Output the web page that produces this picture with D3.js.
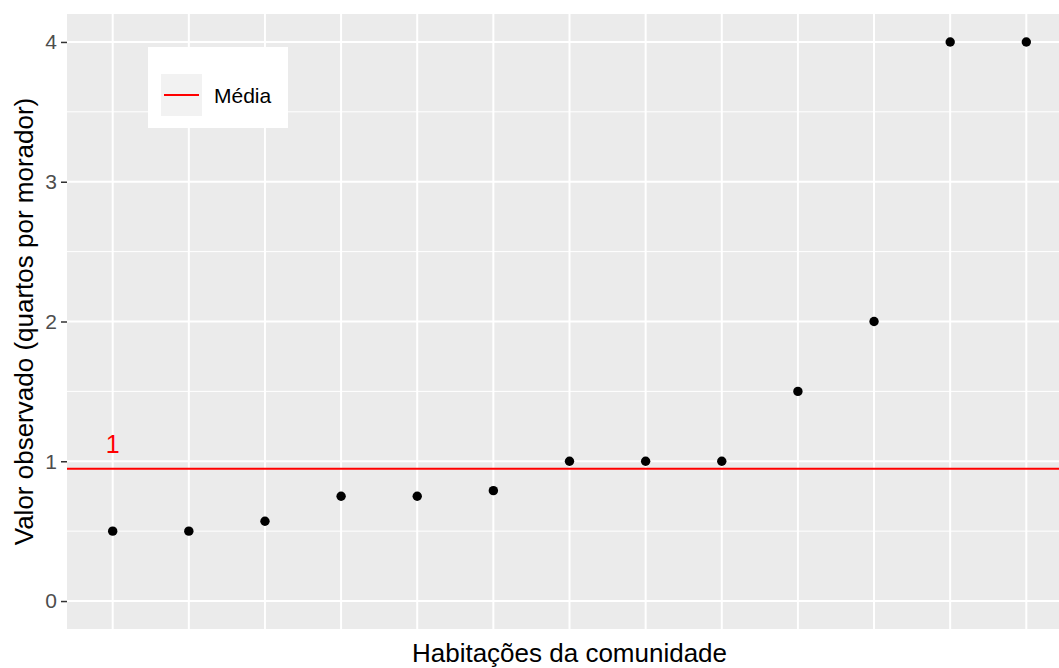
<!DOCTYPE html>
<html>
<head>
<meta charset="utf-8">
<script src="https://cdn.jsdelivr.net/npm/d3@7"></script>
<style>
  body { margin: 0; background: #fff; }
  svg { display: block; font-family: "Liberation Sans", Arial, sans-serif; }
</style>
</head>
<body>
<script>
// houses in the community (x has no tick labels)
var houses = ["h1", "h2", "h3", "h4", "h5", "h6", "h7", "h8", "h9", "h10", "h11", "h12", "h13"];
// rooms per resident
var observed = [0.5, 0.5, 0.571, 0.75, 0.75, 0.79, 1, 1, 1, 1.5, 2, 4, 4];
var yTicks = [0, 1, 2, 3, 4];
var yMinor = [0.5, 1.5, 2.5, 3.5];
var meanValue = 0.946;
var meanLabel = "1";
var legendLabel = "Média";

var width = 1059,
    height = 668,
    panelLeft = 67,
    panelTop = 14,
    panelBottom = 629,
    panelRight = 1072; // panel runs past the picture edge

var x = d3.scalePoint()
    .domain(houses)
    .range([panelLeft, panelRight])
    .padding(0.6);

var y = d3.scaleLinear()
    .domain([-0.2, 4.2])
    .range([panelBottom, panelTop]);

var svg = d3.select("body").append("svg")
    .attr("width", width)
    .attr("height", height);

svg.append("rect")
    .attr("x", panelLeft).attr("y", panelTop)
    .attr("width", panelRight - panelLeft).attr("height", panelBottom - panelTop)
    .attr("fill", "#ebebeb");

// minor grid
svg.selectAll(".minor")
    .data(yMinor)
  .enter().append("line")
    .attr("x1", panelLeft).attr("x2", panelRight)
    .attr("y1", function(d) { return y(d); })
    .attr("y2", function(d) { return y(d); })
    .attr("stroke", "#fff").attr("stroke-width", 1);

// major grid
svg.selectAll(".major")
    .data(yTicks)
  .enter().append("line")
    .attr("x1", panelLeft).attr("x2", panelRight)
    .attr("y1", function(d) { return y(d); })
    .attr("y2", function(d) { return y(d); })
    .attr("stroke", "#fff").attr("stroke-width", 2);

svg.selectAll(".vgrid")
    .data(houses)
  .enter().append("line")
    .attr("x1", function(d) { return x(d); })
    .attr("x2", function(d) { return x(d); })
    .attr("y1", panelTop).attr("y2", panelBottom)
    .attr("stroke", "#fff").attr("stroke-width", 2);

// y axis
var yAxis = d3.axisLeft(y)
    .tickValues(yTicks)
    .tickFormat(d3.format("d"))
    .tickSize(6)
    .tickPadding(4);

var gy = svg.append("g")
    .attr("transform", "translate(" + panelLeft + ",0)")
    .call(yAxis);
gy.select(".domain").remove();
gy.selectAll(".tick line").attr("stroke", "#333").attr("stroke-width", 1.5);
gy.selectAll(".tick text")
    .attr("fill", "#4d4d4d")
    .style("font-size", "21px")
    .style("font-family", "'Liberation Sans', Arial, sans-serif");

// mean line
svg.append("line")
    .attr("x1", panelLeft).attr("x2", panelRight)
    .attr("y1", y(meanValue)).attr("y2", y(meanValue))
    .attr("stroke", "#ff0000").attr("stroke-width", 2);

svg.append("text")
    .attr("x", x(houses[0]))
    .attr("y", y(meanValue) - 16)
    .attr("text-anchor", "middle")
    .attr("fill", "#ff0000")
    .style("font-size", "25px")
    .text(meanLabel);

// points
svg.selectAll(".dot")
    .data(observed)
  .enter().append("circle")
    .attr("cx", function(d, i) { return x(houses[i]); })
    .attr("cy", function(d) { return y(d); })
    .attr("r", 4.7)
    .attr("fill", "#000");

// axis titles
svg.append("text")
    .attr("x", (panelLeft + panelRight) / 2)
    .attr("y", 662)
    .attr("text-anchor", "middle")
    .attr("fill", "#000")
    .style("font-size", "26px")
    .text("Habitações da comunidade");

svg.append("text")
    .attr("transform", "translate(33," + ((panelTop + panelBottom) / 2) + ") rotate(-90)")
    .attr("text-anchor", "middle")
    .attr("fill", "#000")
    .style("font-size", "26px")
    .text("Valor observado (quartos por morador)");

// legend
var lg = svg.append("g").attr("transform", "translate(148,47)");
lg.append("rect")
    .attr("width", 140).attr("height", 81)
    .attr("fill", "#fff");
lg.append("rect")
    .attr("x", 13).attr("y", 27)
    .attr("width", 41).attr("height", 42)
    .attr("fill", "#f2f2f2");
lg.append("line")
    .attr("x1", 16).attr("x2", 51)
    .attr("y1", 48).attr("y2", 48)
    .attr("stroke", "#ff0000").attr("stroke-width", 2);
lg.append("text")
    .attr("x", 66).attr("y", 48)
    .attr("dy", "0.36em")
    .attr("fill", "#000")
    .style("font-size", "21px")
    .text(legendLabel);
</script>
</body>
</html>
